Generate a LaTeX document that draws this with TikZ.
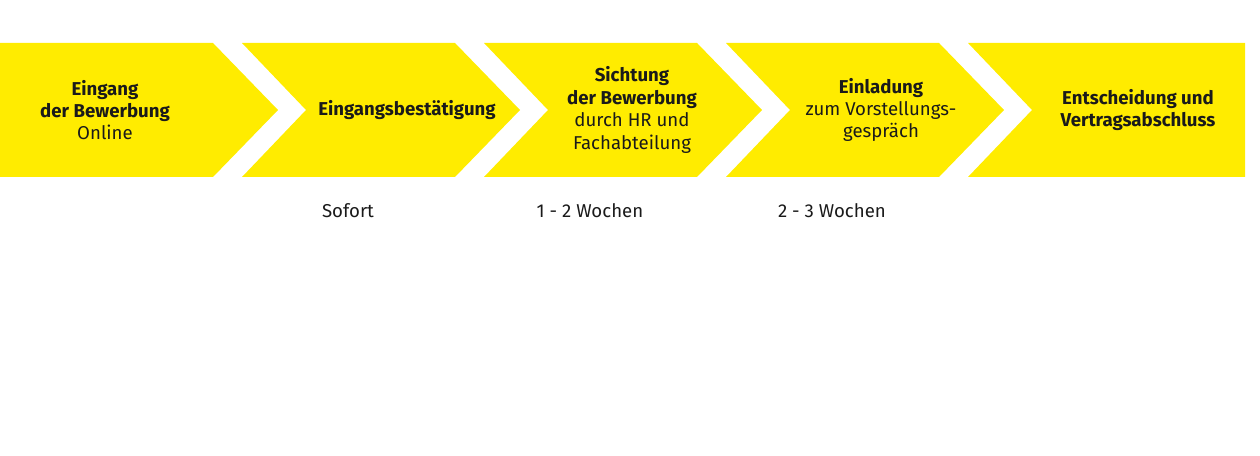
\documentclass[tikz,border=0pt]{standalone}
\usepackage{fontspec}
\setmainfont{Fira Sans}
\definecolor{stepyellow}{HTML}{FFEC00}
\definecolor{steptext}{HTML}{1A1A1A}
\tikzstyle{chevron} = [fill=stepyellow]
\tikzstyle{steplabel} = [text centered, align=center, inner sep=0pt, text=steptext, font=\fontsize{10.6}{12.75}\selectfont]
\tikzstyle{duration} = [inner sep=0pt, text=steptext, font=\fontsize{10.6}{12.75}\selectfont]

\begin{document}
\begin{tikzpicture}[x=0.02cm, y=0.02cm, node distance=4.84cm]
\useasboundingbox (0,0) rectangle (1260,456);
% the five steps
\fill [chevron] (0,413) -- (213,413) -- (278,346) -- (213,279) -- (0,279) -- cycle;
\fill [chevron] (242,413) -- (455,413) -- (520,346) -- (455,279) -- (242,279) -- (306,346) -- cycle;
\fill [chevron] (484,413) -- (697,413) -- (762,346) -- (697,279) -- (484,279) -- (548,346) -- cycle;
\fill [chevron] (726,413) -- (939,413) -- (1004,346) -- (939,279) -- (726,279) -- (790,346) -- cycle;
\fill [chevron] (968,413) -- (1245,413) -- (1245,279) -- (968,279) -- (1032,346) -- cycle;

\node (eingang) [steplabel] at (105,346)
   {\textbf{Eingang}\\\textbf{der Bewerbung}\\Online};
\node (bestaetigung) [steplabel] at (407,346)
   {\textbf{Eingangsbestätigung}};
\node (sichtung) [steplabel] at (632,346)
   {\textbf{Sichtung}\\\textbf{der Bewerbung}\\durch HR und\\Fachabteilung};
\node (einladung) [steplabel] at (881,346)
   {\textbf{Einladung}\\zum Vorstellungs-\\gespräch};
\node (entscheidung) [steplabel] at (1138,346)
   {\textbf{Entscheidung und}\\\textbf{Vertragsabschluss}};

% durations
\node (sofort) [duration] at (348,245) {Sofort};
\node (wochen12) [duration, right of=sofort] {1 - 2 Wochen};
\node (wochen23) [duration, right of=wochen12] {2 - 3 Wochen};

\end{tikzpicture}
\end{document}
